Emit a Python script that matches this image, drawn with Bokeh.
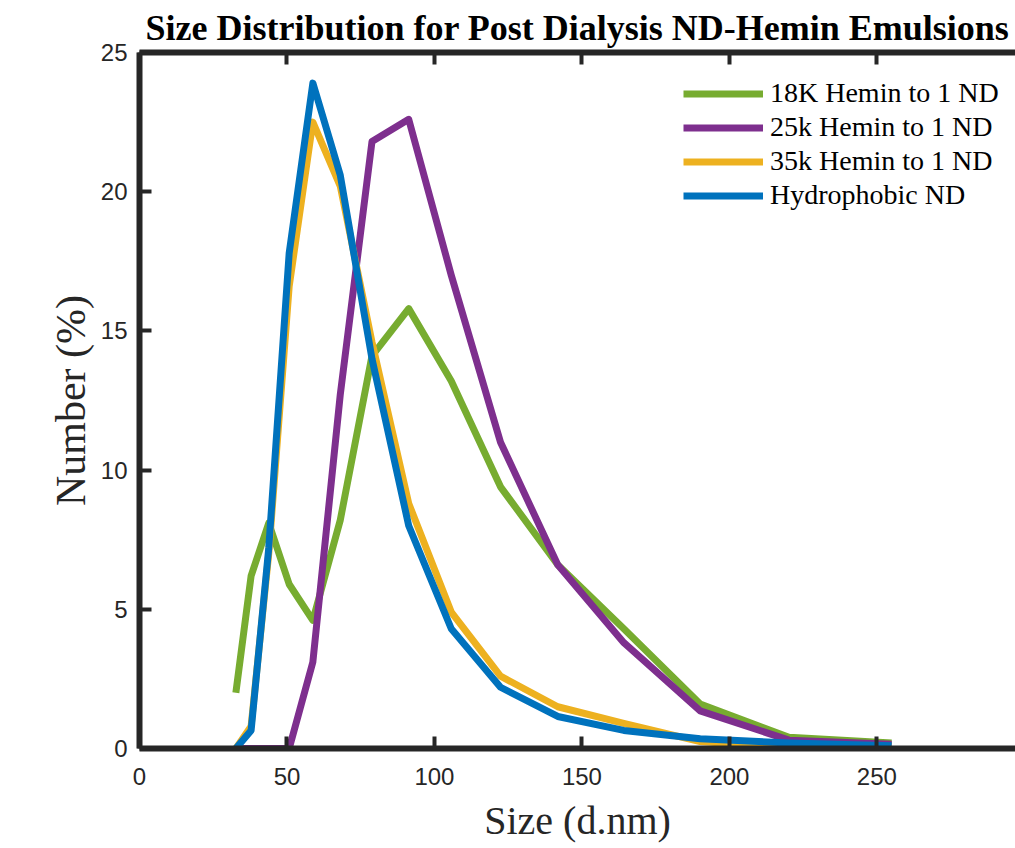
from bokeh.plotting import figure
from bokeh.models import Range1d, LinearAxis, Legend, LegendItem, FixedTicker, CustomJSTickFormatter
from bokeh.embed import file_html
from bokeh.resources import INLINE

# ---- data (Zetasizer size bins, d.nm) ----
size_nm = [32.67, 37.84, 43.82, 50.75, 58.77, 68.06, 78.82, 91.28, 105.7, 122.4,
           141.8, 164.2, 190.1, 220.2, 255.0]
hemin_18k = [2.0, 6.2, 8.1, 5.9, 4.6, 8.2, 14.1, 15.8, 13.2, 9.4, 6.6, 4.3, 1.6, 0.4, 0.2]
hemin_25k = [0.0, 0.0, 0.0, 0.0, 3.1, 12.7, 21.8, 22.6, 17.0, 11.0, 6.6, 3.8, 1.35, 0.3, 0.15]
hemin_35k = [0.0, 0.8, 7.0, 16.6, 22.5, 20.2, 14.6, 8.8, 4.9, 2.6, 1.5, 0.9, 0.25, 0.03, 0.02]
hydrophobic = [0.0, 0.65, 7.2, 17.8, 23.9, 20.6, 14.0, 8.0, 4.3, 2.2, 1.15, 0.65, 0.35, 0.2, 0.1]

series_labels = ["18K Hemin to 1 ND", "25k Hemin to 1 ND", "35k Hemin to 1 ND", "Hydrophobic ND"]
series_values = [hemin_18k, hemin_25k, hemin_35k, hydrophobic]
series_colors = ["#77AC30", "#7E2F8E", "#EDB120", "#0072BD"]

x_ticks = [0, 50, 100, 150, 200, 250, 300]
y_ticks = [0, 5, 10, 15, 20, 25]

title_text = "Size Distribution for Post Dialysis ND-Hemin Emulsions"
x_label = "Size (d.nm)"
y_label = "Number (%)"

AX = "#262626"

p = figure(width=1015, height=848, output_backend="svg", toolbar_location=None,
           x_range=Range1d(0, 297), y_range=Range1d(0, 25),
           min_border_left=139, min_border_right=0, min_border_top=52,
           min_border_bottom=100)
p.outline_line_color = None
p.grid.visible = False
p.background_fill_color = "white"
p.border_fill_color = "white"

p.title.text = title_text
p.title.text_font = "Liberation Serif"
p.title.text_font_style = "bold"
p.title.text_font_size = "36px"
p.title.text_color = "black"
p.title.align = "center"
p.title.offset = 14
p.title.standoff = 9


def style_axis(ax):
    ax.axis_line_width = 6
    ax.axis_line_color = AX
    ax.major_tick_in = 12
    ax.major_tick_out = 0
    ax.minor_tick_in = 0
    ax.minor_tick_out = 0
    ax.major_tick_line_width = 4
    ax.major_tick_line_color = AX
    ax.major_label_text_font = "Liberation Sans"
    ax.major_label_text_font_size = "24px"
    ax.major_label_text_color = AX


xa = p.xaxis[0]
style_axis(xa)
xa.ticker = FixedTicker(ticks=x_ticks)
xa.major_label_standoff = 19
xa.axis_label = x_label
xa.axis_label_text_font = "Liberation Serif"
xa.axis_label_text_font_style = "normal"
xa.axis_label_text_font_size = "40px"
xa.axis_label_text_color = AX
xa.axis_label_standoff = 10

ya = p.yaxis[0]
style_axis(ya)
ya.ticker = FixedTicker(ticks=y_ticks)
ya.major_label_standoff = 12
ya.axis_label = y_label
ya.axis_label_text_font = "Liberation Serif"
ya.axis_label_text_font_style = "normal"
ya.axis_label_text_font_size = "42px"
ya.axis_label_text_color = AX
ya.axis_label_standoff = 4

top = LinearAxis(ticker=FixedTicker(ticks=x_ticks))
style_axis(top)
top.formatter = CustomJSTickFormatter(code="return ''")
top.major_label_text_font_size = "2px"
top.major_label_standoff = 0
p.add_layout(top, "above")

items = []
for lab, vals, col in zip(series_labels, series_values, series_colors):
    r = p.line(size_nm, vals, line_color=col, line_width=7, line_join="round")
    items.append(LegendItem(label=lab, renderers=[r]))

legend = Legend(items=items, location=(544, 537))
legend.border_line_color = None
legend.background_fill_alpha = 0
legend.label_text_font = "Liberation Serif"
legend.label_text_font_size = "28px"
legend.label_text_color = "black"
legend.glyph_width = 80
legend.glyph_height = 27
legend.label_height = 27
legend.label_standoff = 7
legend.spacing = 2
legend.padding = 8
legend.margin = 0
p.add_layout(legend)

open("out.html", "w").write(file_html(p, INLINE))
